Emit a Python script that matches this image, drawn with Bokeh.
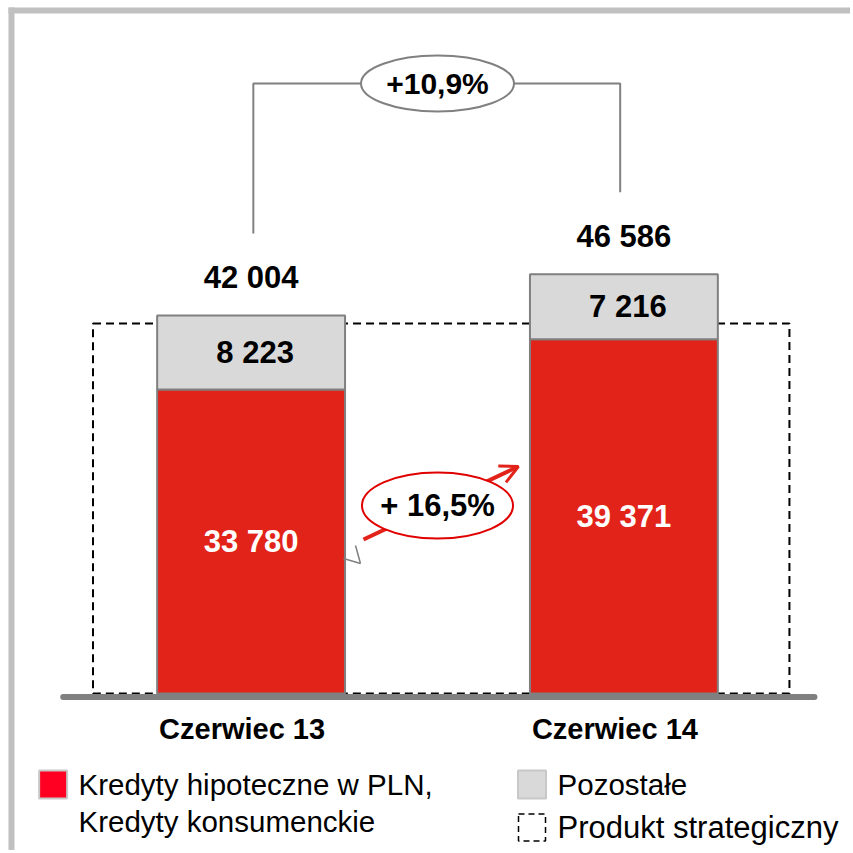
from bokeh.plotting import figure
from bokeh.models import Range1d, ColumnDataSource, Arrow, OpenHead
from bokeh.core.properties import value
from bokeh.embed import file_html
from bokeh.resources import INLINE

# ---- data ----
categories = ["Czerwiec 13", "Czerwiec 14"]
kredyty = [33780, 39371]
pozostale = [8223, 7216]
total_labels = ["42 004", "46 586"]
kredyty_labels = ["33 780", "39 371"]
pozostale_labels = ["8 223", "7 216"]
growth_total = "+10,9%"
growth_strategic = "+ 16,5%"
legend_labels = ["Kredyty hipoteczne w PLN,", "Kredyty konsumenckie", "Pozostałe", "Produkt strategiczny"]

FONT = value("Liberation Sans")
RED = "#e2231a"
GREY = "#d9d9d9"
EDGE = "#808080"

xs = [0, 1]
bw = 0.504
PX = 0.009  # pixels per unit (y)

X0, X1 = -0.6722, 1.6078
Y0, Y1 = -17444, 77000

p = figure(width=850, height=850, output_backend="svg", toolbar_location=None,
           x_range=Range1d(X0, X1), y_range=Range1d(Y0, Y1),
           min_border_left=0, min_border_top=0, min_border_right=0, min_border_bottom=0,
           border_fill_color="white", background_fill_color="white",
           outline_line_color=None)
p.axis.visible = False
p.grid.visible = False

# outer frame (left and top grey strips)
p.quad(left=[-0.6508, -0.6508], right=[-0.6347, X1 + 1],
       bottom=[Y0 - 5000, 75556], top=[76222, 76222],
       fill_color="#c0c0c0", line_color=None)

tops = [k + o for k, o in zip(kredyty, pozostale)]

# strategic product dashed box
p.quad(left=[-0.424], right=[1.444], bottom=[0], top=[41111], fill_color=None,
       line_color="black", line_width=2, line_dash="8 5")

# bars
src = ColumnDataSource(dict(x=xs, k=kredyty, t=tops))
p.vbar(x="x", width=bw, bottom=0, top="k", source=src, fill_color=RED,
       line_color=EDGE, line_width=2)
p.vbar(x="x", width=bw, bottom="k", top="t", source=src, fill_color=GREY,
       line_color=EDGE, line_width=2)

# baseline
p.line(x=[-0.504, 1.511], y=[-389, -389], line_color=EDGE, line_width=6, line_cap="round")

# value labels
p.text(x=xs, y=[k / 2 for k in kredyty], text=kredyty_labels, text_font=FONT,
       text_font_style="bold", text_font_size="31px", text_color="white",
       text_align="center", text_baseline="middle")
p.text(x=xs, y=[k + o / 2 for k, o in zip(kredyty, pozostale)], text=pozostale_labels,
       text_font=FONT, text_font_style="bold", text_font_size="31px", text_color="black",
       text_align="center", text_baseline="middle", x_offset=4)
p.text(x=xs, y=tops, text=total_labels, text_font=FONT, text_font_style="bold",
       text_font_size="31px", text_color="black", text_align="center",
       text_baseline="middle", y_offset=-38)

# category labels
p.text(x=xs, y=[-3889, -3889], text=categories, text_font=FONT, text_font_style="bold",
       text_font_size="29px", text_color="black", text_align="center",
       text_baseline="middle", x_offset=-9)

# bracket for total growth
yb = 67778
gap = 82 / PX
p.multi_line(xs=[[0.006, 0.006, 0.99, 0.99]],
             ys=[[tops[0] + gap, yb, yb, tops[1] + gap]],
             line_color=EDGE, line_width=2)
p.ellipse(x=[0.5], y=[yb], width=[153], height=[56], width_units="screen",
          height_units="screen", fill_color="white", line_color=EDGE, line_width=2)
p.text(x=[0.5], y=[yb], text=[growth_total], text_font=FONT, text_font_style="bold",
       text_font_size="30px", text_color="black", text_align="center", text_baseline="middle")

# strategic growth arrow + ellipse
arrow = Arrow(x_start=0.3015, y_start=17111, x_end=0.717, y_end=25222,
              line_color="#e2231a", line_width=4,
              end=OpenHead(line_color="#e2231a", line_width=3, size=18))
arrow.level = "underlay"
p.add_layout(arrow)
p.ellipse(x=[0.5], y=[20889], width=[151], height=[66], width_units="screen",
          height_units="screen", fill_color="white", line_color="#e00000", line_width=2)
p.text(x=[0.5], y=[20889], text=[growth_strategic], text_font=FONT, text_font_style="bold",
       text_font_size="31px", text_color="black", text_align="center", text_baseline="middle")

# small grey chevron artefact
p.multi_line(xs=[[0.2478, 0.2934], [0.2800, 0.2934]], ys=[[15000, 14444], [16444, 14444]],
             line_color=EDGE, line_width=1.5)

# legend
p.rect(x=[-0.531], y=[-10111], width=[28], height=[28], width_units="screen",
       height_units="screen", fill_color="#ff0022", line_color="#c8c8c8", line_width=2)
p.rect(x=[0.7535], y=[-10111], width=[28], height=[28], width_units="screen",
       height_units="screen", fill_color=GREY, line_color="#c8c8c8", line_width=2)
p.rect(x=[0.7535], y=[-14889], width=[27], height=[27], width_units="screen",
       height_units="screen", fill_color=None, line_color="black", line_width=1.5,
       line_dash="6 4")
p.text(x=[-0.463, -0.463], y=[-10111, -14222], text=legend_labels[:2], text_font=FONT,
       text_font_size="29.5px", text_color="black", text_align="left", text_baseline="middle")
p.text(x=[0.822], y=[-10111], text=legend_labels[2:3], text_font=FONT,
       text_font_size="29.5px", text_color="black", text_align="left", text_baseline="middle")
p.text(x=[0.822], y=[-14889], text=legend_labels[3:], text_font=FONT,
       text_font_size="31px", text_color="black", text_align="left", text_baseline="middle")

open("out.html", "w").write(file_html(p, INLINE))
